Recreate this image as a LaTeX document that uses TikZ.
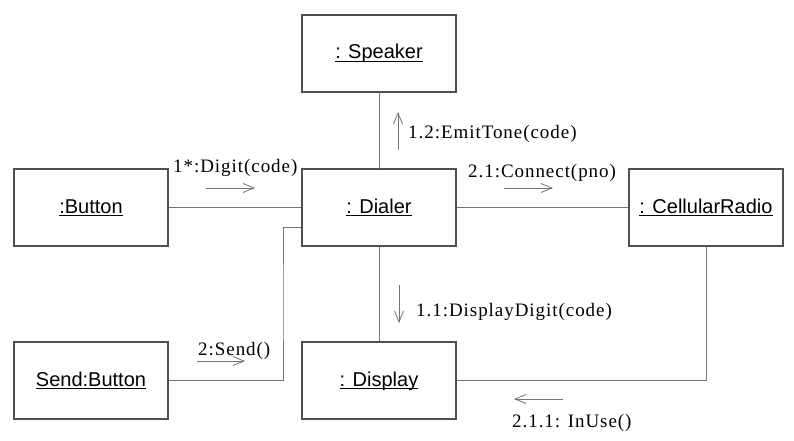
\documentclass[tikz,border=0pt]{standalone}
\usepackage{fontspec}
\setmainfont{Liberation Serif}
\setsansfont{Liberation Sans}
\newfontfamily\msgfont[LetterSpace=5]{Liberation Serif}
\usepackage{tikz}
\usetikzlibrary{arrows.meta}
\definecolor{boxline}{RGB}{80, 80, 80}
\definecolor{linkline}{RGB}{115, 115, 115}
\newcommand{\objname}[1]{\setbox0=\hbox{#1}\rlap{\rule[-3pt]{\wd0}{1.2pt}}\box0}

\begin{document}
\begin{tikzpicture}[x=1pt, y=-1pt,
    obj/.style={draw=boxline, line width=1.1pt, minimum width=154pt, minimum height=77pt,
        font=\sffamily\fontsize{20}{24}\selectfont, text height=14pt, text depth=3pt},
    link/.style={draw=linkline, line width=1pt},
    msg/.style={-{Straight Barb[length=11pt, width=9pt]}, draw=linkline, line width=0.8pt},
    msglabel/.style={font=\msgfont\fontsize{19}{23}\selectfont, inner sep=0pt, anchor=base west}]
        \useasboundingbox (0,0) rectangle (794,441);

        % 对象
        \node[obj] (speaker) at (379,53.5) {\objname{: Speaker}};
        \node[obj] (button) at (91,207.5) {\objname{:Button}};
        \node[obj] (dialer) at (379,207.5) {\objname{: Dialer}};
        \node[obj] (radio) at (706,207.5) {\objname{: CellularRadio}};
        \node[obj] (sendbtn) at (91,380.5) {\objname{Send:Button}};
        \node[obj] (display) at (379,380.5) {\objname{: Display}};

        % 链接
        \draw[link] (button) -- (dialer);
        \draw[link] (dialer) -- (speaker);
        \draw[link] (dialer) -- (radio);
        \draw[link] (dialer) -- (display);
        \coordinate (sendbend) at (283,300);
        \coordinate (dialerlow) at ([yshift=-19.5pt]dialer.west);
        \draw[link] (sendbtn.east) -| (sendbend) |- (dialerlow);
        \draw[link] (radio.south) |- (display.east);

        % 消息
        \node[msglabel] (digitmsg) at (173,172) {1*:Digit(code)};
        \coordinate (digitA) at (206,188); \coordinate (digitB) at (255,188);
        \draw[msg] (digitA) -- (digitB);

        \node[msglabel] (tonemsg) at (408,138) {1.2:EmitTone(code)};
        \coordinate (toneA) at (398,150); \coordinate (toneB) at (398,112);
        \draw[msg] (toneA) -- (toneB);

        \node[msglabel] (connmsg) at (468,177) {2.1:Connect(pno)};
        \coordinate (connA) at (504,188); \coordinate (connB) at (553,188);
        \draw[msg] (connA) -- (connB);

        \node[msglabel] (showmsg) at (416,316) {1.1:DisplayDigit(code)};
        \coordinate (showA) at (399,285); \coordinate (showB) at (399,323);
        \draw[msg] (showA) -- (showB);

        \node[msglabel] (sendmsg) at (198,355) {2:Send()};
        \coordinate (sendA) at (197,361); \coordinate (sendB) at (245,361);
        \draw[msg] (sendA) -- (sendB);

        \node[msglabel] (usemsg) at (512,427) {2.1.1: InUse()};
        \coordinate (useA) at (563,399); \coordinate (useB) at (514,399);
        \draw[msg] (useA) -- (useB);

    \end{tikzpicture}
\end{document}
